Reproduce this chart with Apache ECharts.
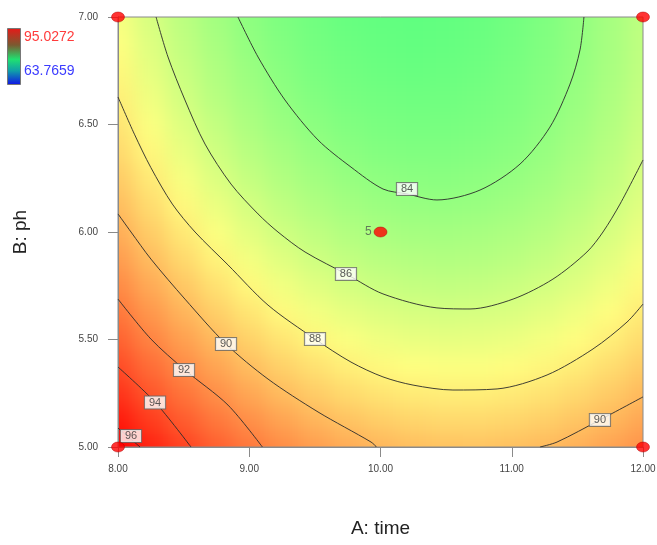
<!DOCTYPE html>
<html>
<head>
<meta charset="utf-8">
<script src="https://cdn.jsdelivr.net/npm/echarts@6/dist/echarts.min.js"></script>
<style>
html,body{margin:0;padding:0;background:#fff;width:657px;height:545px;overflow:hidden}
#fillClip{position:absolute;left:118px;top:17px;width:525px;height:430px;overflow:hidden}
#fill{position:absolute;left:-60px;top:-60px;width:645px;height:550px;filter:blur(10px)}
#main{position:absolute;left:0;top:0;width:657px;height:545px}
</style>
</head>
<body>
<div id="fillClip"><div id="fill"></div></div>
<div id="main"></div>
<script>
// ---------- data ----------
const aValues = [8.00, 8.25, 8.50, 8.75, 9.00, 9.25, 9.50, 9.75, 10.00, 10.25, 10.50, 10.75, 11.00, 11.25, 11.50, 11.75, 12.00];
const bValues = [5.000, 5.125, 5.250, 5.375, 5.500, 5.625, 5.750, 5.875, 6.000, 6.125, 6.250, 6.375, 6.500, 6.625, 6.750, 6.875, 7.000];
// response estimated at each (A, B) node; one row per B value, columns follow aValues
const responseGrid = [
  [96.63,95.38,94.25,93.24,92.36,91.60,90.96,90.45,90.06,89.79,89.64,89.62,89.72,89.94,90.28,90.75,91.34],
  [95.68,94.45,93.33,92.34,91.47,90.72,90.10,89.60,89.22,88.96,88.83,88.82,88.93,89.17,89.52,90.01,90.61],
  [94.79,93.56,92.46,91.48,90.62,89.89,89.28,88.79,88.43,88.18,88.06,88.07,88.19,88.44,88.82,89.31,89.93],
  [93.93,92.72,91.63,90.67,89.83,89.11,88.51,88.03,87.68,87.45,87.35,87.37,87.51,87.77,88.15,88.66,89.29],
  [93.13,91.93,90.86,89.91,89.08,88.37,87.79,87.33,86.99,86.77,86.68,86.71,86.86,87.14,87.54,88.06,88.71],
  [92.37,91.19,90.13,89.19,88.37,87.68,87.11,86.66,86.34,86.14,86.06,86.10,86.27,86.56,86.97,87.51,88.17],
  [91.67,90.49,89.45,88.52,87.72,87.04,86.48,86.05,85.74,85.55,85.49,85.54,85.72,86.03,86.45,87.00,87.67],
  [91.00,89.85,88.81,87.90,87.11,86.45,85.90,85.48,85.19,85.01,84.96,85.03,85.22,85.54,85.98,86.54,87.23],
  [90.39,89.25,88.23,87.33,86.55,85.90,85.37,84.96,84.68,84.52,84.48,84.57,84.77,85.10,85.56,86.13,86.83],
  [89.82,88.69,87.69,86.80,86.04,85.40,84.89,84.49,84.22,84.07,84.05,84.15,84.37,84.71,85.18,85.77,86.48],
  [89.31,88.19,87.19,86.32,85.58,84.95,84.45,84.07,83.81,83.68,83.67,83.78,84.01,84.37,84.85,85.45,86.18],
  [88.83,87.73,86.75,85.89,85.16,84.55,84.06,83.69,83.45,83.33,83.33,83.46,83.70,84.07,84.57,85.18,85.92],
  [88.41,87.32,86.35,85.51,84.79,84.19,83.72,83.36,83.13,83.03,83.04,83.18,83.44,83.83,84.33,84.96,85.72],
  [88.03,86.96,86.00,85.17,84.47,83.88,83.42,83.08,82.86,82.77,82.80,82.95,83.23,83.63,84.15,84.79,85.56],
  [87.71,86.64,85.70,84.89,84.19,83.62,83.17,82.85,82.64,82.56,82.61,82.77,83.06,83.47,84.01,84.66,85.44],
  [87.42,86.37,85.45,84.65,83.96,83.41,82.97,82.66,82.47,82.40,82.46,82.64,82.94,83.37,83.91,84.58,85.38],
  [87.19,86.15,85.24,84.45,83.79,83.24,82.82,82.52,82.35,82.29,82.36,82.55,82.87,83.31,83.87,84.55,85.36]
];

// contour lines, points [A, B]
const contour84 = [[8.914,7.000],[9.067,6.814],[9.272,6.614],[9.524,6.428],[9.775,6.302],[10.019,6.200],[10.202,6.177],[10.430,6.149],[10.758,6.195],[11.063,6.316],[11.291,6.488],[11.444,6.688],[11.520,6.847],[11.550,7.000]];
const contour86 = [[8.290,7.000],[8.381,6.814],[8.510,6.614],[8.663,6.409],[8.861,6.223],[9.067,6.084],[9.219,6.000],[9.425,5.907],[9.752,5.800],[10.019,5.712],[10.430,5.647],[10.682,5.642],[11.010,5.688],[11.314,5.781],[11.573,5.907],[11.695,6.000],[11.825,6.130],[12.000,6.335]];
const contour88 = [[8.000,6.628],[8.125,6.455],[8.250,6.300],[8.414,6.130],[8.587,6.000],[8.838,5.847],[9.143,5.660],[9.501,5.502],[9.775,5.395],[10.019,5.326],[10.248,5.288],[10.552,5.265],[10.888,5.270],[11.269,5.335],[11.619,5.456],[11.878,5.581],[12.000,5.665]];
const contour90left = [[8.000,6.084],[8.099,6.000],[8.251,5.874],[8.510,5.688],[8.823,5.479],[9.143,5.316],[9.524,5.163],[9.928,5.023],[9.970,5.000]];
const contour90right = [[11.215,5.000],[11.345,5.023],[11.672,5.126],[12.000,5.233]];
const contour92 = [[8.000,5.688],[8.251,5.502],[8.510,5.358],[8.838,5.195],[9.100,5.000]];
const contour94 = [[8.000,5.372],[8.282,5.209],[8.556,5.000]];
const contour96 = [[8.000,5.088],[8.168,5.000]];

// contour label positions [A, B, text]
const contourLabels = [[10.202,6.200,'84'],[9.737,5.805,'86'],[9.501,5.502,'88'],[8.823,5.479,'90'],[11.672,5.126,'90'],[8.503,5.358,'92'],[8.282,5.207,'94'],[8.099,5.051,'96']];

// design points
const designA = [8, 8, 12, 12, 10];
const designB = [5, 7, 5, 7, 6];
const designReplicates = [1, 1, 1, 1, 5];

// colour legend values
const legendHigh = '95.0272';
const legendLow = '63.7659';

// axis ticks
const aTicks = {min: 8, max: 12, step: 1};
const bTicks = {min: 5, max: 7, step: 0.5};

// ---------- build ----------
const fontFamily = "'Liberation Sans', Arial, sans-serif";
const heatData = [];
for (let i = 0; i < bValues.length; i++) {
  for (let j = 0; j < aValues.length; j++) {
    heatData.push([aValues[j], bValues[i], responseGrid[i][j]]);
  }
}
let zMin = Infinity, zMax = -Infinity;
responseGrid.forEach(r => r.forEach(v => { if (v < zMin) zMin = v; if (v > zMax) zMax = v; }));
const halfA = (aValues[1] - aValues[0]) / 2;
const halfB = (bValues[1] - bValues[0]) / 2;
const aFirst = aValues[0], aLast = aValues[aValues.length - 1];
const bFirst = bValues[0], bLast = bValues[bValues.length - 1];
const edgePad = 80;

const fillColors = ['#60ff80','#72ff80','#83ff80','#95ff80','#a7ff80','#b8ff80','#caff80','#dcff80','#edff80','#ffff80',
  '#ffef78','#ffdf70','#ffcf68','#ffbf60','#ffaf58','#ff9f50','#ff8f48','#ff8040','#ff7038','#ff6030','#ff5028','#ff4020','#ff3018','#ff2010','#ff1008','#ff0000'];

const bg = echarts.init(document.getElementById('fill'), null, {renderer: 'canvas'});
bg.setOption({
  animation: false,
  grid: {left: 60, top: 60, width: 525, height: 430, show: false, outerBoundsMode: 'none', containLabel: false},
  xAxis: {type: 'value', min: aTicks.min, max: aTicks.max, show: false},
  yAxis: {type: 'value', min: bTicks.min, max: bTicks.max, show: false},
  visualMap: {type: 'continuous', show: false, min: zMin, max: zMax, dimension: 2, seriesIndex: 0, inRange: {color: fillColors}},
  series: [{
    type: 'custom',
    clip: false,
    data: heatData,
    renderItem: function (params, api) {
      const a = api.value(0), b = api.value(1);
      const p0 = api.coord([a - halfA, b + halfB]);
      const p1 = api.coord([a + halfA, b - halfB]);
      let x0 = p0[0], y0 = p0[1], x1 = p1[0], y1 = p1[1];
      if (a <= aFirst) x0 -= edgePad;
      if (a >= aLast) x1 += edgePad;
      if (b >= bLast) y0 -= edgePad;
      if (b <= bFirst) y1 += edgePad;
      return {
        type: 'rect',
        shape: {x: x0 - 0.5, y: y0 - 0.5, width: x1 - x0 + 1, height: y1 - y0 + 1},
        style: {fill: api.visual('color')}
      };
    }
  }]
});

const contours = [contour84, contour86, contour88, contour90left, contour90right, contour92, contour94, contour96];
const lineSeries = contours.map(pts => ({
  type: 'line',
  data: pts,
  smooth: 0.3,
  symbol: 'none',
  clip: true,
  silent: true,
  lineStyle: {color: '#2b2b2b', width: 1, opacity: 0.9},
  z: 3
}));

const labelSeries = {
  type: 'scatter',
  data: contourLabels.map(d => ({value: [d[0], d[1]], name: d[2]})),
  symbolSize: 1,
  itemStyle: {color: 'rgba(0,0,0,0)'},
  clip: false,
  z: 5,
  label: {
    show: true, position: 'inside', formatter: '{b}',
    fontSize: 11, fontFamily: fontFamily, color: '#333',
    backgroundColor: '#fff', borderColor: '#666', borderWidth: 1,
    padding: [1, 4, 0, 4]
  }
};

const designSeries = {
  type: 'scatter',
  data: designA.map((a, i) => ({value: [a, designB[i]], name: designReplicates[i] > 1 ? String(designReplicates[i]) : ''})),
  symbol: 'circle',
  symbolSize: [13, 10],
  clip: false,
  z: 6,
  itemStyle: {color: '#ff0000', borderColor: '#b00000', borderWidth: 0.6},
  label: {show: true, position: 'left', distance: 2, formatter: '{b}', fontSize: 12, fontFamily: fontFamily, color: '#505a50'}
};

const fg = echarts.init(document.getElementById('main'), null, {renderer: 'canvas'});
fg.setOption({
  animation: false,
  grid: {left: 118, top: 17, width: 525, height: 430, show: true, borderColor: '#8a8a8a', borderWidth: 1, backgroundColor: 'transparent', outerBoundsMode: 'none', containLabel: false},
  xAxis: {
    type: 'value', min: aTicks.min, max: aTicks.max, interval: aTicks.step,
    name: 'A: time', nameLocation: 'middle', nameGap: 72,
    nameTextStyle: {fontSize: 19, color: '#222', fontFamily: fontFamily},
    axisLine: {show: true, onZero: false, lineStyle: {color: '#8a8a8a', width: 1}},
    axisTick: {show: true, length: 10, lineStyle: {color: '#8a8a8a'}},
    axisLabel: {formatter: v => v.toFixed(2), fontSize: 10, color: '#444', margin: 17, fontFamily: fontFamily},
    splitLine: {show: false}
  },
  yAxis: {
    type: 'value', min: bTicks.min, max: bTicks.max, interval: bTicks.step,
    name: 'B: ph', nameLocation: 'middle', nameGap: 88,
    nameTextStyle: {fontSize: 19, color: '#222', fontFamily: fontFamily},
    axisLine: {show: true, onZero: false, lineStyle: {color: '#8a8a8a', width: 1}},
    axisTick: {show: true, length: 10, lineStyle: {color: '#8a8a8a'}},
    axisLabel: {formatter: v => v.toFixed(2), fontSize: 10, color: '#444', margin: 20, fontFamily: fontFamily},
    splitLine: {show: false}
  },
  graphic: [
    {type: 'rect', left: 7, top: 28, shape: {width: 13, height: 56},
      style: {fill: new echarts.graphic.LinearGradient(0, 0, 0, 1, [
        {offset: 0, color: '#e81818'}, {offset: 0.3, color: '#7a5a30'}, {offset: 0.55, color: '#20e070'},
        {offset: 0.75, color: '#10a0a8'}, {offset: 1, color: '#1010e8'}]), stroke: '#777', lineWidth: 1}},
    {type: 'text', left: 24, top: 30, style: {text: legendHigh, fill: '#ff3b3b', font: '14px ' + fontFamily}},
    {type: 'text', left: 24, top: 64, style: {text: legendLow, fill: '#3b3bff', font: '14px ' + fontFamily}}
  ],
  series: lineSeries.concat([labelSeries, designSeries])
});
</script>
</body>
</html>
